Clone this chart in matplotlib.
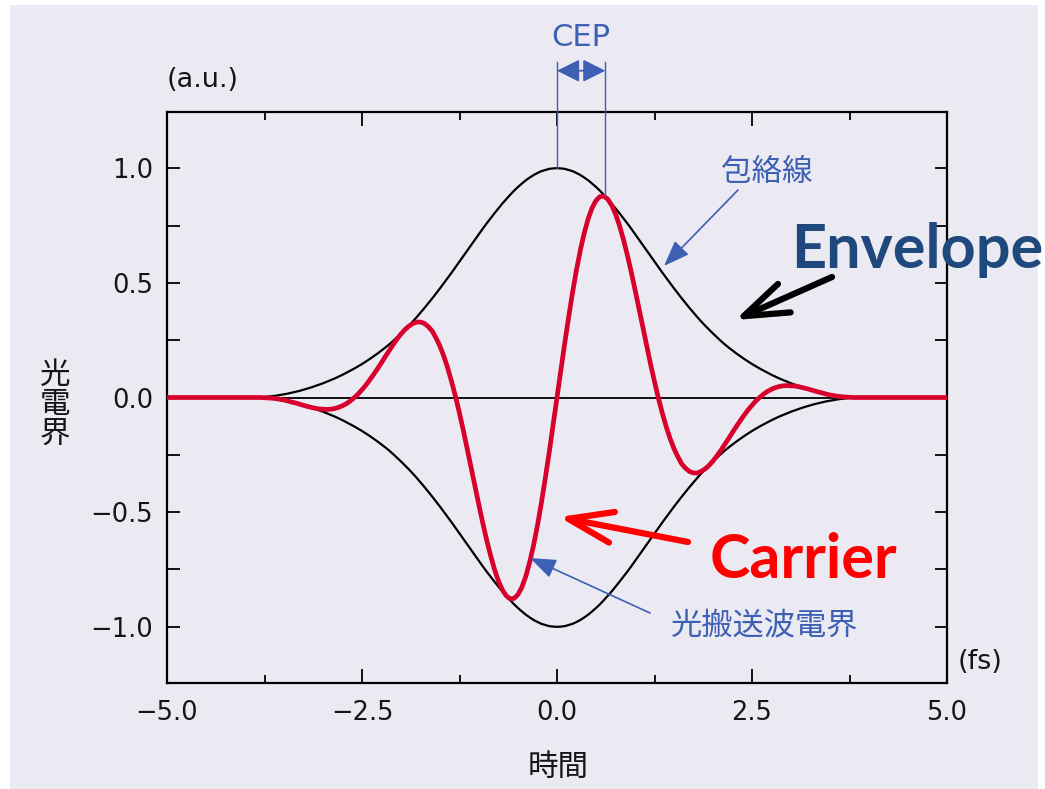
import numpy as np
import matplotlib
matplotlib.use('Agg')
import matplotlib.pyplot as plt
from matplotlib.patches import Rectangle

# --- data (time in fs, field in a.u.), 0.05 fs steps ---
time_fs = np.concatenate(([-5.0], np.round(np.arange(-78, 79) * 0.05, 2), [5.0]))

envelope = [
    0.000,
    0.000, 0.000, 0.001, 0.002, 0.004, 0.006, 0.008, 0.011, 0.014, 0.017,
    0.021, 0.025, 0.029, 0.034, 0.039, 0.044, 0.050, 0.056, 0.062, 0.069,
    0.076, 0.083, 0.091, 0.099, 0.108, 0.117, 0.126, 0.136, 0.146, 0.157,
    0.168, 0.180, 0.192, 0.205, 0.218, 0.232, 0.247, 0.263, 0.279, 0.296,
    0.313, 0.331, 0.350, 0.370, 0.390, 0.411, 0.432, 0.454, 0.476, 0.499,
    0.522, 0.545, 0.569, 0.593, 0.617, 0.641, 0.665, 0.689, 0.713, 0.737,
    0.760, 0.782, 0.804, 0.825, 0.846, 0.865, 0.884, 0.902, 0.918, 0.933,
    0.947, 0.959, 0.970, 0.979, 0.987, 0.992, 0.997, 0.999,
    1.000,
    0.999, 0.997, 0.992, 0.987, 0.979, 0.970, 0.959, 0.947,
    0.933, 0.918, 0.902, 0.884, 0.865, 0.846, 0.825, 0.804, 0.782, 0.760,
    0.737, 0.713, 0.689, 0.665, 0.641, 0.617, 0.593, 0.569, 0.545, 0.522,
    0.499, 0.476, 0.454, 0.432, 0.411, 0.390, 0.370, 0.350, 0.331, 0.313,
    0.296, 0.279, 0.263, 0.247, 0.232, 0.218, 0.205, 0.192, 0.180, 0.168,
    0.157, 0.146, 0.136, 0.126, 0.117, 0.108, 0.099, 0.091, 0.083, 0.076,
    0.069, 0.062, 0.056, 0.050, 0.044, 0.039, 0.034, 0.029, 0.025, 0.021,
    0.017, 0.014, 0.011, 0.008, 0.006, 0.004, 0.002, 0.001, 0.000, 0.000,
    0.000,
]

carrier = [
    0.000,
    0.000, 0.000, 0.000, -0.001, -0.002, -0.003, -0.005, -0.008, -0.011, -0.015,
    -0.020, -0.024, -0.029, -0.034, -0.039, -0.043, -0.047, -0.050, -0.051, -0.052,
    -0.051, -0.048, -0.043, -0.036, -0.027, -0.015, -0.001, 0.015, 0.034, 0.054,
    0.077, 0.101, 0.126, 0.152, 0.179, 0.205, 0.231, 0.255, 0.277, 0.296,
    0.311, 0.322, 0.329, 0.329, 0.323, 0.309, 0.290, 0.259, 0.223, 0.179,
    0.127, 0.068, 0.003, -0.069, -0.145, -0.225, -0.307, -0.389, -0.471, -0.550,
    -0.624, -0.691, -0.751, -0.801, -0.839, -0.865, -0.878, -0.876, -0.859, -0.827,
    -0.780, -0.718, -0.644, -0.557, -0.459, -0.352, -0.239, -0.121,
    0.000,
    0.121, 0.239, 0.352, 0.459, 0.557, 0.644, 0.718, 0.780,
    0.827, 0.859, 0.876, 0.878, 0.865, 0.839, 0.801, 0.751, 0.691, 0.624,
    0.550, 0.471, 0.389, 0.307, 0.225, 0.145, 0.069, -0.003, -0.068, -0.127,
    -0.179, -0.223, -0.259, -0.290, -0.309, -0.323, -0.329, -0.329, -0.322, -0.311,
    -0.296, -0.277, -0.255, -0.231, -0.205, -0.179, -0.152, -0.126, -0.101, -0.077,
    -0.054, -0.034, -0.015, 0.001, 0.015, 0.027, 0.036, 0.043, 0.048, 0.051,
    0.052, 0.051, 0.050, 0.047, 0.043, 0.039, 0.034, 0.029, 0.024, 0.020,
    0.015, 0.011, 0.008, 0.005, 0.003, 0.002, 0.001, 0.000, 0.000, 0.000,
    0.000,
]

x_ticks = [-5.0, -2.5, 0.0, 2.5, 5.0]
y_ticks = [-1.0, -0.5, 0.0, 0.5, 1.0]
cep_shift = 0.62  # carrier peak position (fs)
cep_peak = 0.878

# --- colours ---
bg = '#ebe9f2'
red = '#d8002c'
blue = '#3d5fb4'
dark_blue = '#1f497d'
txt = '#151515'
jp = ['Noto Sans CJK JP', 'DejaVu Sans']

W, H = 1045, 789
fig = plt.figure(figsize=(W / 100, H / 100), dpi=100, facecolor='white')
fig.patches.append(Rectangle((10 / W, 0), 1028 / W, 1 - 5 / H, transform=fig.transFigure,
                             facecolor=bg, edgecolor='none', zorder=-10))


def fx(px):
    return px / W


def fy(py):
    return 1 - py / H


ax = fig.add_axes([fx(167), fy(683), (947 - 167) / W, (683 - 112) / H])
ax.set_facecolor(bg)

ax.axhline(0, color='black', lw=1.3, zorder=1)
ax.plot(time_fs, envelope, color='black', lw=1.6, zorder=2)
ax.plot(time_fs, -np.array(envelope), color='black', lw=1.6, zorder=2)
ax.plot(time_fs, carrier, color=red, lw=3.4, zorder=3,
        solid_capstyle='round', solid_joinstyle='round')

ax.set_xlim(-5, 5)
ax.set_ylim(-1.245, 1.245)
ax.set_xticks(x_ticks)
ax.set_xticklabels([f'{v:.1f}'.replace('-', '\u2212') for v in x_ticks])
ax.set_xticks([-3.75, -1.25, 1.25, 3.75], minor=True)
ax.set_yticks(y_ticks)
ax.set_yticklabels([f'{v:.1f}'.replace('-', '\u2212') for v in y_ticks])
ax.set_yticks([-0.75, -0.25, 0.25, 0.75], minor=True)
ax.tick_params(which='both', direction='in', top=True, right=True, color='black',
               width=1.3, labelsize=18.5, labelcolor=txt)
ax.tick_params(axis='x', which='major', length=10, pad=12)
ax.tick_params(axis='x', which='minor', length=6)
ax.tick_params(axis='y', which='both', length=9, pad=10)
for s in ax.spines.values():
    s.set_linewidth(1.6)

# unit labels and axis titles
fig.text(fx(203), fy(80), '(a.u.)', fontsize=19.5, color=txt, ha='center', va='center')
fig.text(fx(980), fy(662), '(fs)', fontsize=19.5, color=txt, ha='center', va='center')
fig.text(fx(558), fy(767), '時間', fontsize=22, color=txt, ha='center', va='center', family=jp)
fig.text(fx(55), fy(405), '光\n電\n界', fontsize=22, color=txt, ha='center', va='center',
         family=jp, linespacing=0.95)

# CEP marker
ax.plot([0, 0], [1.0, 1.465], color=blue, lw=1.0, clip_on=False, zorder=4)
ax.plot([cep_shift, cep_shift], [cep_peak, 1.465], color=blue, lw=1.0, clip_on=False, zorder=4)
ax.annotate('', xy=(0, 1.425), xytext=(cep_shift, 1.425), annotation_clip=False,
            arrowprops=dict(arrowstyle='<|-|>,head_length=0.7,head_width=0.35',
                            mutation_scale=20, color=blue, lw=1.2, shrinkA=0, shrinkB=0))
fig.text(fx(581), fy(37), 'CEP', fontsize=22, color=blue, ha='center', va='center')

# Japanese callouts
fig.text(fx(767), fy(172), '包絡線', fontsize=22, color=blue, ha='center', va='center', family=jp)
ax.annotate('', xy=(fx(664), fy(266)), xytext=(fx(738), fy(190)),
            xycoords='figure fraction', textcoords='figure fraction',
            arrowprops=dict(arrowstyle='-|>,head_length=0.8,head_width=0.3',
                            mutation_scale=20, color=blue, lw=1.2, shrinkA=0, shrinkB=0))
fig.text(fx(765), fy(625), '光搬送波電界', fontsize=22.5, color=blue, ha='center', va='center',
         family=jp)
ax.annotate('', xy=(fx(530), fy(558)), xytext=(fx(650), fy(613)),
            xycoords='figure fraction', textcoords='figure fraction',
            arrowprops=dict(arrowstyle='-|>,head_length=0.8,head_width=0.3',
                            mutation_scale=20, color=blue, lw=1.2, shrinkA=0, shrinkB=0))

# English callouts
fig.text(fx(917), fy(250), 'Envelope', fontsize=44, fontweight='bold', color=dark_blue,
         ha='center', va='center', family='Lato')
ax.annotate('', xy=(fx(735), fy(320)), xytext=(fx(832), fy(277)),
            xycoords='figure fraction', textcoords='figure fraction',
            arrowprops=dict(arrowstyle='->,head_length=1.6,head_width=0.56',
                            mutation_scale=20, color='black', lw=4.5,
                            shrinkA=0, shrinkB=0, capstyle='round', joinstyle='round'))
fig.text(fx(803), fy(560), 'Carrier', fontsize=44, fontweight='bold', color='#ff0000',
         ha='center', va='center', family='Lato')
ax.annotate('', xy=(fx(559), fy(517)), xytext=(fx(688), fy(542)),
            xycoords='figure fraction', textcoords='figure fraction',
            arrowprops=dict(arrowstyle='->,head_length=1.6,head_width=0.56',
                            mutation_scale=20, color='#ff0000', lw=4.5,
                            shrinkA=0, shrinkB=0, capstyle='round', joinstyle='round'))

fig.savefig('out.png', dpi=100, facecolor=fig.get_facecolor())
